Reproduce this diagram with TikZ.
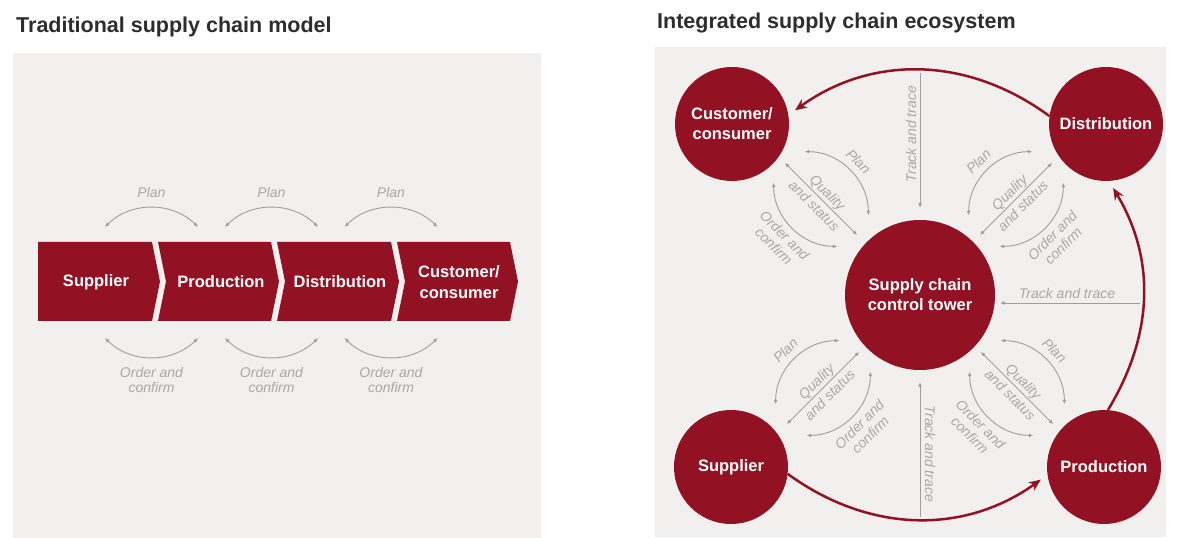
\documentclass[tikz,border=0pt]{standalone}
\usepackage{fontspec}
\setmainfont{Liberation Sans}
\usetikzlibrary{arrows.meta}
\definecolor{scred}{RGB}{146,18,36}
\definecolor{panelbg}{RGB}{242,240,239}
\definecolor{lgrey}{RGB}{158,158,158}
\definecolor{tgrey}{RGB}{168,168,168}
\definecolor{ttl}{RGB}{45,45,45}
\tikzset{
 titletext/.style={anchor=base west, inner sep=0, text=ttl, font=\bfseries\fontsize{21.5}{24}\selectfont},
 chevlabel/.style={text=white, align=center, inner sep=0, font=\bfseries\fontsize{16.5}{21}\selectfont},
 bubble/.style={circle, fill=scred, text=white, align=center, inner sep=0, minimum size=114pt, font=\bfseries\fontsize{16.5}{20}\selectfont},
 glabel/.style={text=tgrey, inner sep=0, align=center, font=\itshape\fontsize{14}{15}\selectfont},
 qlabel/.style={glabel, font=\itshape\fontsize{14}{19}\selectfont},
 garr/.style={draw=lgrey, line width=0.9pt, {Latex[length=4.5pt,width=4pt]}-{Latex[length=4.5pt,width=4pt]}},
 gone/.style={draw=lgrey, line width=0.9pt, -{Latex[length=4.5pt,width=4pt]}},
 rarr/.style={draw=scred, line width=2.5pt, -{Stealth[length=12pt,width=10pt]}, shorten >=8pt},
}
\newcommand\scclust[4]{%
 \begin{scope}[shift={(#1,#2)}, rotate=#3]
  \coordinate (#4pa) at (-45,22); \coordinate (#4pb) at (45,22);
  \draw[garr] (#4pa) to[bend left=45] (#4pb);
  \coordinate (#4qa) at (-51,0); \coordinate (#4qb) at (51,0);
  \draw[garr] (#4qa) -- (#4qb);
  \coordinate (#4oa) at (-45,-22); \coordinate (#4ob) at (45,-22);
  \draw[garr] (#4oa) to[bend right=45] (#4ob);
  \node[glabel, rotate=#3] (#4plan) at (0,53) {Plan};
  \node[qlabel, rotate=#3] (#4qual) at (0,0) {Quality\\and status};
  \node[glabel, rotate=#3] (#4ord) at (0,-59) {Order and\\confirm};
 \end{scope}}
\begin{document}
\begin{tikzpicture}[x=1pt,y=1pt]
\useasboundingbox (0,0) rectangle (1178,538);
% panels
\fill[panelbg] (13,0) rectangle (541,485);
\fill[panelbg] (655,1) rectangle (1166,491);
% titles
\node[titletext] (t1) at (16,505) {Traditional supply chain model};
\node[titletext] (t2) at (657,509) {Integrated supply chain ecosystem};
% ---------------- left: chevrons
\fill[scred] (38,217) -- (38,296) -- (152,296) -- (160,256.5) -- (152,217) -- cycle;
\fill[scred] (158,217) -- (166,256.5) -- (158,296) -- (271,296) -- (279,256.5) -- (271,217) -- cycle;
\fill[scred] (277,217) -- (285,256.5) -- (277,296) -- (391,296) -- (399,256.5) -- (391,217) -- cycle;
\fill[scred] (397,217) -- (405,256.5) -- (397,296) -- (510,296) -- (518,256.5) -- (510,217) -- cycle;
\node[chevlabel] (lsup) at (96,256) {Supplier};
\node[chevlabel] (lpro) at (221,256) {Production};
\node[chevlabel] (ldis) at (340,256) {Distribution};
\node[chevlabel] (lcus) at (459,256) {Customer/\\consumer};
\foreach \i/\cx in {1/151.5,2/271.5,3/391}{
  \coordinate (pa\i) at (\cx-46.5,311);
  \coordinate (pb\i) at (\cx+46.5,311);
  \draw[garr] (pa\i) to[bend left=45] (pb\i);
  \node[glabel] (plan\i) at (\cx,345) {Plan};
  \coordinate (oa\i) at (\cx-46.5,200);
  \coordinate (ob\i) at (\cx+46.5,200);
  \draw[garr] (oa\i) to[bend right=45] (ob\i);
  \node[glabel] (ord\i) at (\cx,158) {Order and\\confirm};
}
% ---------------- right: ecosystem
\node[bubble] (cust) at (732,414) {Customer/\\consumer};
\node[bubble] (dist) at (1106,414) {Distribution};
\node[bubble] (supp) at (731,71) {Supplier};
\node[bubble] (prod) at (1104,71) {Production};
\node[bubble, minimum size=150pt] (tower) at (920,243) {Supply chain\\control tower};
% red flow arcs
\draw[rarr] (dist.172) to[out=143.7, in=35.8] (cust.9);
\draw[rarr] (prod.86) to[out=58.8, in=-59.1] (dist.-87.5);
\draw[rarr] (supp.-7.7) to[out=-36, in=215.7] (prod.188.4);
% track and trace
\coordinate (ttop) at (920,465);
\draw[gone, shorten >=12pt] (ttop) -- (tower.north);
\node[glabel, rotate=90] (tttop) at (911,404) {Track and trace};
\coordinate (tbot) at (920,21);
\draw[gone, shorten >=12pt] (tbot) -- (tower.south);
\node[glabel, rotate=-90] (ttbot) at (930,84) {Track and trace};
\coordinate (tright) at (1140,235);
\draw[gone, shorten >=5pt] (tright) -- (tright -| tower.east);
\node[glabel, anchor=base] (ttright) at (1067,239) {Track and trace};
% clusters
\scclust{821}{339}{-45}{ul}
\scclust{1016}{339}{45}{ur}
\scclust{823}{150}{45}{ll}
\scclust{1017}{150}{-45}{lr}
\end{tikzpicture}
\end{document}
